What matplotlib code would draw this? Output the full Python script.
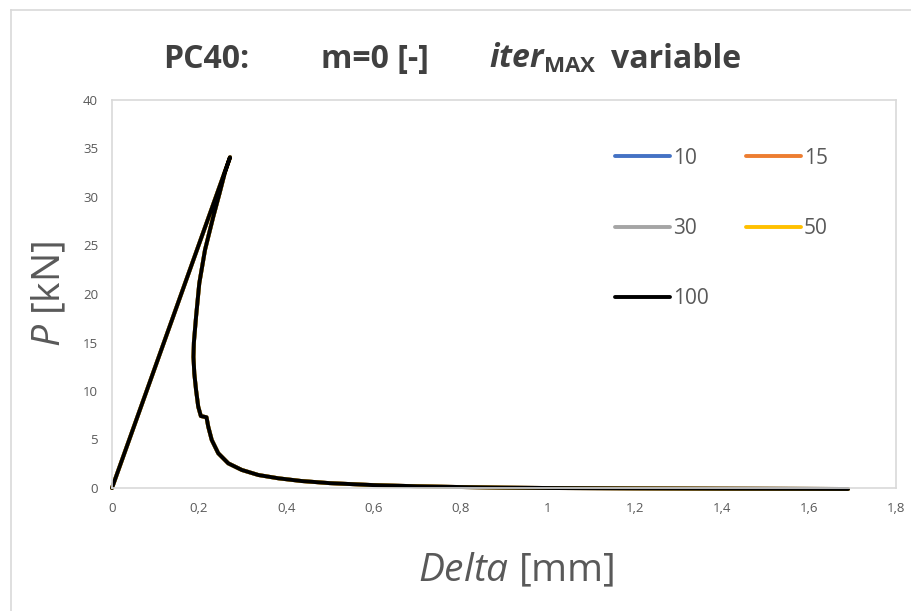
import matplotlib
matplotlib.use("Agg")
import matplotlib.pyplot as plt
from matplotlib.lines import Line2D

plt.rcParams['font.family'] = ['Open Sans', 'DejaVu Sans']
plt.rcParams['mathtext.fontset'] = 'custom'
plt.rcParams['mathtext.rm'] = 'Open Sans'
plt.rcParams['mathtext.it'] = 'Open Sans:italic'
plt.rcParams['mathtext.bf'] = 'Open Sans:bold'
plt.rcParams['mathtext.bfit'] = 'Open Sans:italic:bold'

# ---- data ----
series_labels = ['10', '15', '30', '50', '100']
series_colors = ['#4472C4', '#ED7D31', '#A5A5A5', '#FFC000', '#000000']
delta = [0, 0.271, 0.259, 0.247, 0.2325, 0.2135, 0.2004, 0.193, 0.188, 0.187,
         0.189, 0.193, 0.198, 0.204, 0.217, 0.221, 0.229, 0.244, 0.267, 0.298,
         0.336, 0.382, 0.435, 0.5, 0.6, 0.7, 0.8, 0.9, 1.0, 1.2, 1.4, 1.6, 1.69]
p_kn = [0, 34.1, 32.5, 30.4, 27.97, 24.54, 21.1, 17.66, 15.0, 13.5,
        11.8, 10.1, 8.38, 7.42, 7.29, 6.32, 4.95, 3.58, 2.54, 1.86,
        1.34, 1.0, 0.72, 0.5, 0.3, 0.18, 0.1, 0.04, 0.0, -0.04, -0.07, -0.09, -0.1]
x_ticks = [0, 0.2, 0.4, 0.6, 0.8, 1.0, 1.2, 1.4, 1.6, 1.8]
x_ticklabels = ['0', '0,2', '0,4', '0,6', '0,8', '1', '1,2', '1,4', '1,6', '1,8']
y_ticks = [0, 5, 10, 15, 20, 25, 30, 35, 40]

W, H = 911, 611
fig = plt.figure(figsize=(W / 100, H / 100), dpi=100)
ax = fig.add_axes([112 / W, 1 - 488 / H, (896 - 112) / W, (488 - 100) / H])

for lab, col in zip(series_labels, series_colors):
    ax.plot(delta, p_kn, color=col, lw=2.8, label=lab, solid_capstyle='round',
            solid_joinstyle='round', clip_on=False)

ax.set_xlim(0, 1.8)
ax.set_ylim(0, 40)
ax.set_xticks(x_ticks)
ax.set_xticklabels(x_ticklabels)
ax.set_yticks(y_ticks)
ax.tick_params(length=0, labelsize=9.5, colors='#595959', pad=10)
for s in ax.spines.values():
    s.set_color('#d9d9d9')
    s.set_linewidth(1.2)

ax.set_xlabel(r'$Delta$ [mm]', fontsize=28, color='#595959', labelpad=27)
ax.xaxis.label.set_x(0.515)
ax.set_ylabel(r'$P$ [kN]', fontsize=28, color='#595959', labelpad=10)

# title pieces
base_y = 1 - 68 / H
tkw = dict(fontsize=23, fontweight='bold', color='#404040', va='baseline', ha='left')
fig.text(163 / W, base_y, 'PC40:', **tkw)
fig.text(321 / W, base_y, 'm=0 [-]', **tkw)
fig.text(489 / W, base_y, r'$\mathbfit{iter}_{\mathbf{MAX}}$', **tkw)
fig.text(611 / W, base_y, 'variable', **tkw)

handles, labels = ax.get_legend_handles_labels()
order = [0, 2, 4, 1, 3]
leg = fig.legend([handles[i] for i in order], [labels[i] for i in order],
                 ncol=2, frameon=False, loc='upper left',
                 bbox_to_anchor=(596 / W, 1 - 129 / H), fontsize=15,
                 handlelength=2.64, labelspacing=2.36, columnspacing=1.78,
                 handletextpad=0.15)
for t in leg.get_texts():
    t.set_color('#595959')

# outer chart border (left and top edges visible)
fig.add_artist(Line2D([11 / W, 11 / W], [0, 1 - 10 / H], color='#d9d9d9', lw=1.2,
                      transform=fig.transFigure))
fig.add_artist(Line2D([11 / W, 1], [1 - 10 / H, 1 - 10 / H], color='#d9d9d9', lw=1.2,
                      transform=fig.transFigure))

fig.savefig('out.png', dpi=100)
